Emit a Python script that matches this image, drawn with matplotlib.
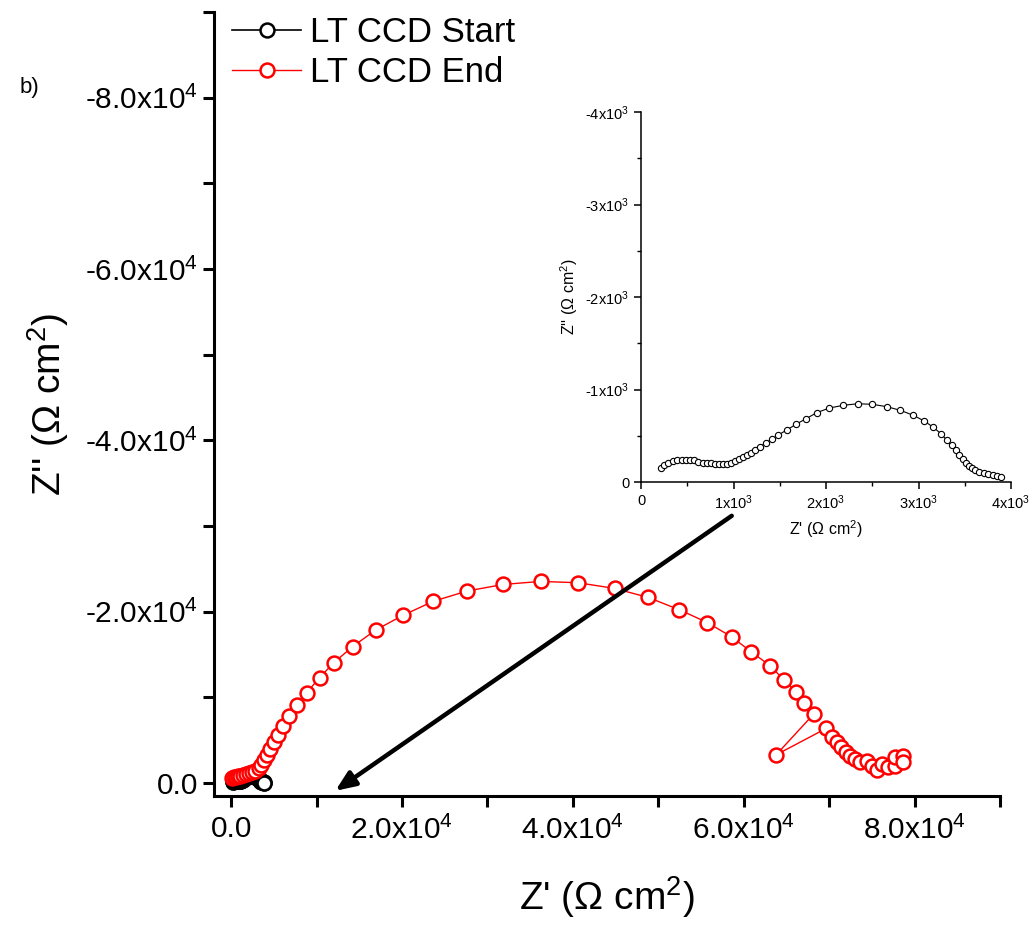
import numpy as np
import matplotlib.pyplot as plt
from matplotlib.ticker import FixedLocator, FuncFormatter

plt.rcParams['font.family'] = ['Liberation Sans', 'DejaVu Sans']
plt.rcParams['mathtext.default'] = 'regular'

# LT CCD Start (also shown in the inset)
start_zr = [216, 252, 295, 342, 392, 440, 486, 530, 573, 620, 667, 710, 757, 800, 843, 886, 930,
            973, 1016, 1059, 1099, 1142, 1186, 1232, 1286, 1348, 1413, 1484, 1575, 1676, 1784, 1899,
            2036, 2187, 2342, 2501, 2659, 2803, 2944, 3063, 3160, 3243, 3305, 3359, 3402, 3441, 3477,
            3510, 3542, 3574, 3610, 3657, 3708, 3754, 3801, 3844, 3887]
start_zi = [-155, -184, -209, -224, -235, -238, -241, -241, -235, -216, -209, -205, -202, -198, -195,
            -195, -198, -209, -227, -245, -267, -289, -317, -346, -382, -422, -462, -508, -562, -624,
            -684, -749, -800, -829, -846, -840, -814, -775, -721, -659, -591, -522, -454, -397, -343,
            -292, -249, -209, -173, -148, -126, -108, -97, -90, -79, -68, -57]

# LT CCD End
end_zr = [118, 353, 588, 824, 1059, 1412, 1765, 2118, 2471, 2824, 3212, 3529, 3882, 4200, 4588,
          4976, 5447, 6082, 6824, 7682, 8859, 10353, 12035, 14235, 16906, 20082, 23612, 27612,
          31882, 36235, 40588, 44906, 48824, 52471, 55729, 58588, 60882, 63118, 64706, 66082,
          67059, 68200, 63800, 69682, 70388, 70976, 71447, 71965, 72435, 73023, 73612, 74388,
          74976, 75565, 76153, 76941, 77729, 77729, 78623, 78623]
end_zi = [-585, -702, -760, -819, -877, -936, -1053, -1170, -1287, -1404, -1719, -2140, -2690,
          -3275, -3977, -4760, -5649, -6702, -7836, -9123, -10562, -12316, -14070, -15942, -17860,
          -19567, -21205, -22421, -23193, -23544, -23392, -22725, -21672, -20234, -18749, -17076,
          -15322, -13685, -12047, -10678, -9333, -8070, -3310, -6398, -5415, -4760, -4175, -3661,
          -3193, -2807, -2491, -2608, -2023, -1520, -2222, -1836, -2023, -3006, -3123, -2421]

fig = plt.figure(figsize=(10.32, 9.25), dpi=100)
ax = fig.add_axes([214/1032, 1-796/925, 786/1032, 784/925])

ax.plot(start_zr, start_zi, '-o', color='black', lw=1.2, ms=10, mfc='white', mew=1.8,
        label='LT CCD Start')
ax.plot(end_zr, end_zi, '-o', color='red', lw=1.0, ms=10, mfc='white', mew=1.8,
        label='LT CCD End')

ax.set_xlim(-2000, 90000)
ax.set_ylim(1500, -90000)
for s in ['top', 'right']:
    ax.spines[s].set_visible(False)
for s in ['left', 'bottom']:
    ax.spines[s].set_linewidth(2.2)


def big_fmt(v, pos):
    if v == 0:
        return '0.0'
    return '%.1fx10$^{4}$' % (v / 1e4)


ax.xaxis.set_major_locator(FixedLocator([0, 20000, 40000, 60000, 80000]))
ax.xaxis.set_minor_locator(FixedLocator([10000, 30000, 50000, 70000, 90000]))
ax.yaxis.set_major_locator(FixedLocator([0, -20000, -40000, -60000, -80000]))
ax.yaxis.set_minor_locator(FixedLocator([-10000, -30000, -50000, -70000, -90000]))
ax.xaxis.set_major_formatter(FuncFormatter(big_fmt))
ax.yaxis.set_major_formatter(FuncFormatter(big_fmt))
ax.tick_params(which='both', direction='out', length=8, width=2.2, labelsize=21.5)
ax.tick_params(axis='x', pad=6)
ax.set_xlabel("Z' (Ω cm$^{2}$)", fontsize=28, labelpad=21)
ax.set_ylabel("Z'' (Ω cm$^{2}$)", fontsize=28, labelpad=10)

ax.legend(loc='upper left', frameon=False, fontsize=25, handlelength=2.0, handletextpad=0.25,
          labelspacing=0.2, borderaxespad=0.0, bbox_to_anchor=(0.005, 1.012))

fig.text(20/1032, 1-88/925, 'b)', fontsize=16, va='center')

# arrow from inset to the start data near the origin
ax.annotate('', xy=(12200, 900), xytext=(58600, -31200),
            arrowprops=dict(arrowstyle='-|>,head_length=1.2,head_width=0.5', color='black',
                            lw=3.2, shrinkA=0, shrinkB=0))

# inset
ins = fig.add_axes([641/1032, 1-482/925, 370/1032, 370/925])
ins.plot(start_zr, start_zi, '-o', color='black', lw=0.8, ms=4.5, mfc='white', mew=0.8)
ins.set_xlim(0, 4000)
ins.set_ylim(0, -4000)
for s in ['top', 'right']:
    ins.spines[s].set_visible(False)
for s in ['left', 'bottom']:
    ins.spines[s].set_linewidth(1.1)


def small_fmt(v, pos):
    if v == 0:
        return '0'
    return '%dx10$^{3}$' % round(v / 1e3)


ins.xaxis.set_major_locator(FixedLocator([0, 1000, 2000, 3000, 4000]))
ins.xaxis.set_minor_locator(FixedLocator([500, 1500, 2500, 3500]))
ins.yaxis.set_major_locator(FixedLocator([0, -1000, -2000, -3000, -4000]))
ins.yaxis.set_minor_locator(FixedLocator([-500, -1500, -2500, -3500]))
ins.xaxis.set_major_formatter(FuncFormatter(small_fmt))
ins.yaxis.set_major_formatter(FuncFormatter(small_fmt))
ins.tick_params(which='major', direction='out', length=5, width=1.1, labelsize=10.5)
ins.tick_params(which='minor', direction='out', length=3, width=1.0)
ins.set_xlabel("Z' (Ω cm$^{2}$)", fontsize=11.5, labelpad=4)
ins.set_ylabel("Z'' (Ω cm$^{2}$)", fontsize=11.5, labelpad=4)

fig.savefig('out.png', dpi=100)
